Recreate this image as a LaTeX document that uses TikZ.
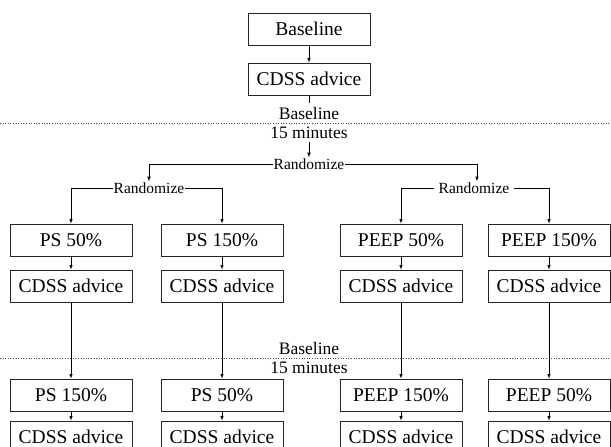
\documentclass[tikz,border=0pt]{standalone}
\usepackage{fontspec}
\setmainfont{Liberation Serif}
\usetikzlibrary{calc,shapes,arrows}

\begin{document}
\begin{tikzpicture}[x=1pt,y=-1pt,
    box/.style={draw=black!85,line width=0.8pt,minimum width=122pt,minimum height=32pt,inner sep=0pt,font=\rmfamily\fontsize{19.5}{20}\selectfont},
    rnd/.style={inner sep=1pt,font=\rmfamily\fontsize{15.5}{16}\selectfont},
    note/.style={inner sep=0pt,font=\rmfamily\fontsize{17.5}{18}\selectfont},
    link/.style={line width=0.6pt,-latex}]
        \useasboundingbox (0,0) rectangle (611,447);
        % start
        \node[box] (base) at (309,29) {Baseline};
        \node[box] (cdss) at (309,79) {CDSS advice};
        \draw[link] (base) -- (cdss);
        \draw[dotted,black!70,line width=0.6pt] (0,123) -- (611,123);
        \node[note,anchor=south] (wait1) at (309,120) {Baseline};
        \node[note,anchor=north] (min1) at (309,127) {15 minutes};
        \draw[line width=0.6pt,shorten >=4pt] (cdss.south) -- (wait1.north);
        \node[rnd] (rand) at (309,164) {Randomize};
        \draw[link,shorten <=3pt] (min1.south) -- (rand.north);
        \node[rnd] (randl) at (149,188) {Randomize};
        \node[rnd,inner xsep=5pt] (randr) at (474,188) {Randomize};
        \draw[link] (rand.west) -| (randl.north);
        \draw[link] (rand.east) -| ($(randr.north)+(3,0)$);
        % second wash-out
        \draw[dotted,black!70,line width=0.6pt] (0,358) -- (611,358);
        \node[note,anchor=south] (wait2) at (309,355) {Baseline};
        \node[note,anchor=north] (min2) at (309,362) {15 minutes};
        % the four arms
        \foreach \i/\x/\a/\b in {1/71/PS 50\%/PS 150\%, 2/222/PS 150\%/PS 50\%,
                                 3/401/PEEP 50\%/PEEP 150\%, 4/549/PEEP 150\%/PEEP 50\%}
        {
        \node[box] (first\i) at (\x,240) {\a};
        \node[box] (adv\i) at (\x,286) {CDSS advice};
        \node[box] (second\i) at (\x,395) {\b};
        \node[box] (advb\i) at (\x,437) {CDSS advice};
        \draw[link] (first\i) -- (adv\i);
        \draw[link] (adv\i) -- (second\i);
        \draw[link] (second\i) -- (advb\i);
        }
        \draw[link] (randl.west) -| (first1.north);
        \draw[link] (randl.east) -| (first2.north);
        \draw[link] (randr.west) -| (first3.north);
        \draw[link] (randr.east) -| (first4.north);
    \end{tikzpicture}
\end{document}
